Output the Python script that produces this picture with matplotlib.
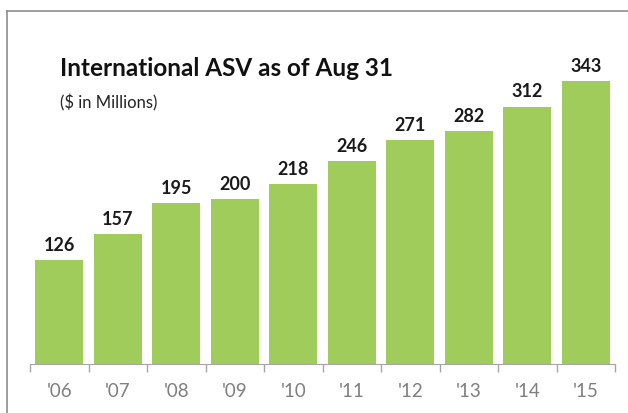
import numpy as np
import matplotlib.pyplot as plt
from matplotlib.lines import Line2D

# data
years = ["'06", "'07", "'08", "'09", "'10", "'11", "'12", "'13", "'14", "'15"]
asv = [126, 157, 195, 200, 218, 246, 271, 282, 312, 343]

plt.rcParams['font.family'] = ['Lato', 'DejaVu Sans']

fig = plt.figure(figsize=(6.28, 4.14), dpi=100)
ax = fig.add_axes([30 / 628, 49 / 414, 585 / 628, 325 / 414])

x = np.arange(len(years))
ax.bar(x, asv, width=0.82, color='#9fcc5a', zorder=2)
for xi, v in zip(x, asv):
    ax.text(xi, v + 9, str(v), ha='center', va='bottom', fontsize=13,
            fontweight='bold', color='#1a1a1a')

ax.set_xlim(-0.5, len(years) - 0.5)
ax.set_ylim(0, 394)

# tick marks between categories, labels centred under bars
ax.set_xticks(np.arange(len(years) + 1) - 0.5)
ax.set_xticklabels([])
ax.set_xticks(x, minor=True)
ax.set_xticklabels(years, minor=True, fontsize=13.5, color='#7f7f7f')
ax.tick_params(axis='x', which='major', length=6, color='#a6a6a6', width=1)
ax.tick_params(axis='x', which='minor', length=0, pad=13)
ax.set_yticks([])
for side in ['top', 'right', 'left']:
    ax.spines[side].set_visible(False)
ax.spines['bottom'].set_color('#a6a6a6')

# titles
fig.text(60 / 628, 1 - 68 / 414, 'International ASV as of Aug 31', fontsize=17.5,
         fontweight='bold', color='#111111', va='center', ha='left')
fig.text(60 / 628, 1 - 103 / 414, '($ in Millions)', fontsize=12,
         color='#222222', va='center', ha='left')

# outer frame (open at right and bottom)
fig.add_artist(Line2D([7 / 628, 1], [1 - 12 / 414, 1 - 12 / 414], color='#8c8c8c', lw=1.2))
fig.add_artist(Line2D([7 / 628, 7 / 628], [0, 1 - 12 / 414], color='#8c8c8c', lw=1.2))

fig.savefig('out.png', dpi=100)
